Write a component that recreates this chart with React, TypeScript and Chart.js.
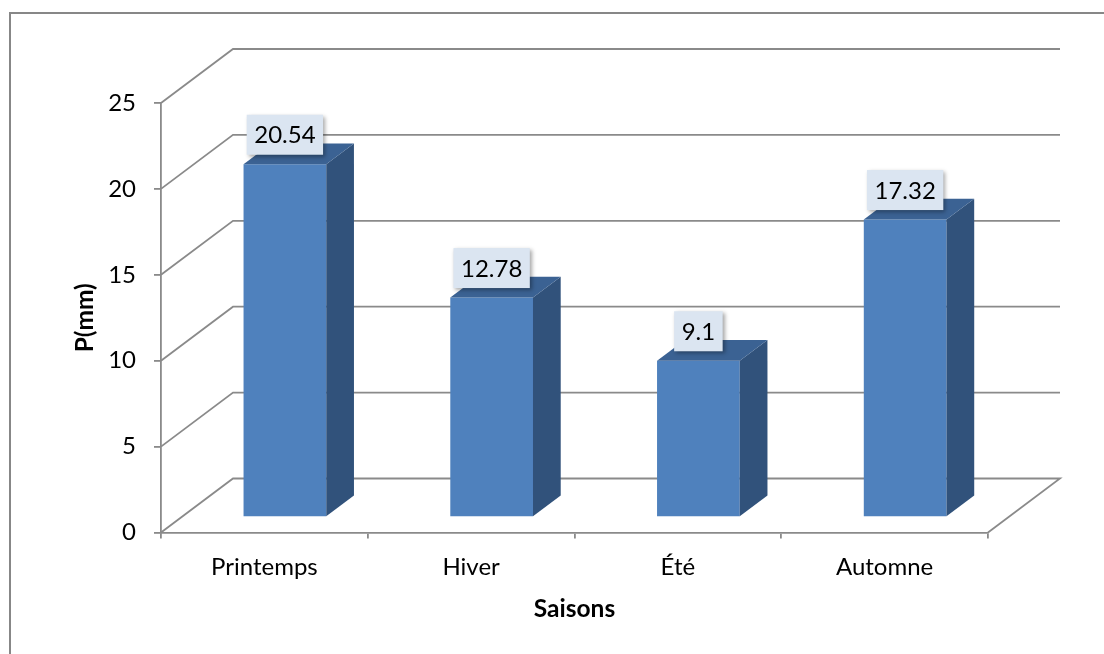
import React, { useEffect, useRef } from "react";
import { Chart, registerables } from "chart.js";

Chart.register(...registerables);

const categories = ["Printemps", "Hiver", "Été", "Automne"];
const precipitation = [20.54, 12.78, 9.1, 17.32];
const yMin = 0;
const yMax = 25;
const yStep = 5;
const yTitle = "P(mm)";
const xTitle = "Saisons";

const W = 1104;
const H = 654;
const WALL_DX = 72;
const WALL_DY = -54;
const FRONT_F = 0.285;
const DEPTH_F = 0.385;
const GRID = "#8a8a8a";
const FRONT = "#4f81bd";
const SIDE = "#31527b";
const TOP = "#3b6293";
const LABEL_BG = "#dbe5f1";
const FONT = "Lato, 'Open Sans', sans-serif";
const FS = 24;
const TFS = 24.5;

const threeD = {
  id: "threeD",
  beforeDraw(chart: any) {
    const { ctx, chartArea: a, scales } = chart;
    ctx.save();
    ctx.fillStyle = "#ffffff";
    ctx.fillRect(0, 0, chart.width, chart.height);
    ctx.strokeStyle = "#878787";
    ctx.lineWidth = 2;
    ctx.strokeRect(10, 13, chart.width + 40, chart.height + 40);
    const y = scales.y;
    ctx.strokeStyle = GRID;
    ctx.lineWidth = 1.8;
    for (const t of y.ticks) {
      const py = y.getPixelForValue(t.value);
      ctx.beginPath();
      ctx.moveTo(a.left, py);
      ctx.lineTo(a.left + WALL_DX, py + WALL_DY);
      ctx.lineTo(a.right + WALL_DX, py + WALL_DY);
      if (t.value === y.min) ctx.lineTo(a.right, py);
      ctx.stroke();
    }
    ctx.restore();
  },
  beforeDatasetsDraw(chart: any) {
    chart.ctx.save();
    chart.ctx.translate(WALL_DX * FRONT_F, WALL_DY * FRONT_F);
  },
  afterDatasetsDraw(chart: any) {
    const ctx = chart.ctx;
    const meta = chart.getDatasetMeta(0);
    const dx = WALL_DX * DEPTH_F;
    const dy = WALL_DY * DEPTH_F;
    const values = chart.data.datasets[0].data;
    meta.data.forEach((bar: any) => {
      const { x, y, base, width } = bar.getProps(["x", "y", "base", "width"], true);
      const l = x - width / 2;
      const r = x + width / 2;
      ctx.fillStyle = SIDE;
      ctx.beginPath();
      ctx.moveTo(r, y);
      ctx.lineTo(r + dx, y + dy);
      ctx.lineTo(r + dx, base + dy);
      ctx.lineTo(r, base);
      ctx.closePath();
      ctx.fill();
      ctx.fillStyle = TOP;
      ctx.beginPath();
      ctx.moveTo(l, y);
      ctx.lineTo(r, y);
      ctx.lineTo(r + dx, y + dy);
      ctx.lineTo(l + dx, y + dy);
      ctx.closePath();
      ctx.fill();
    });
    ctx.font = `${FS}px ${FONT}`;
    ctx.textAlign = "center";
    ctx.textBaseline = "middle";
    meta.data.forEach((bar: any, i: number) => {
      const { x, y } = bar.getProps(["x", "y"], true);
      const txt = String(values[i]);
      const tw = ctx.measureText(txt).width;
      const bw = tw + 15;
      const bh = 40;
      const cy = y - 29.5;
      ctx.save();
      ctx.shadowColor = "rgba(0,0,0,0.35)";
      ctx.shadowBlur = 4;
      ctx.shadowOffsetX = 2;
      ctx.shadowOffsetY = 2;
      ctx.fillStyle = LABEL_BG;
      ctx.fillRect(x - bw / 2, cy - bh / 2, bw, bh);
      ctx.restore();
      ctx.fillStyle = "#000000";
      ctx.fillText(txt, x, cy + 1);
    });
    ctx.restore();
  },
};

export default function App() {
  const ref = useRef<HTMLCanvasElement>(null);
  useEffect(() => {
    if (!ref.current) return;
    Chart.defaults.font.family = FONT;
    const chart = new Chart(ref.current, {
      type: "bar",
      data: {
        labels: categories,
        datasets: [
          {
            data: precipitation,
            backgroundColor: FRONT,
            borderWidth: 0,
            barPercentage: 0.4,
            categoryPercentage: 1,
          },
        ],
      },
      options: {
        animation: false,
        responsive: false,
        devicePixelRatio: 1,
        layout: { padding: { top: 103, right: 116, left: 0, bottom: 0 } },
        plugins: { legend: { display: false }, tooltip: { enabled: false } },
        scales: {
          x: {
            grid: { offset: true, drawOnChartArea: false, tickLength: 6, color: GRID, lineWidth: 1.8 },
            border: { color: GRID, width: 1.8 },
            ticks: { padding: 14, color: "#000", font: { size: FS } },
            title: {
              display: true,
              text: xTitle,
              color: "#000",
              font: { size: TFS, weight: "bold" },
              padding: { top: 0, bottom: 30 },
            },
            afterFit: (s: any) => {
              s.height = 121.5;
            },
          },
          y: {
            min: yMin,
            max: yMax,
            ticks: { stepSize: yStep, padding: 18, color: "#000", font: { size: FS } },
            grid: { drawOnChartArea: false, tickLength: 7, color: GRID, lineWidth: 1.8 },
            border: { color: GRID, width: 1.8 },
            title: {
              display: true,
              text: yTitle,
              color: "#000",
              font: { size: TFS, weight: "bold" },
              padding: { top: 70, bottom: 0 },
            },
            afterFit: (s: any) => {
              s.width = 161;
            },
          },
        },
      },
      plugins: [threeD],
    });
    return () => chart.destroy();
  }, []);
  return (
    <div style={{ position: "fixed", left: 0, top: 0, width: W, height: H, background: "#fff" }}>
      <canvas ref={ref} width={W} height={H} style={{ display: "block" }} />
    </div>
  );
}
